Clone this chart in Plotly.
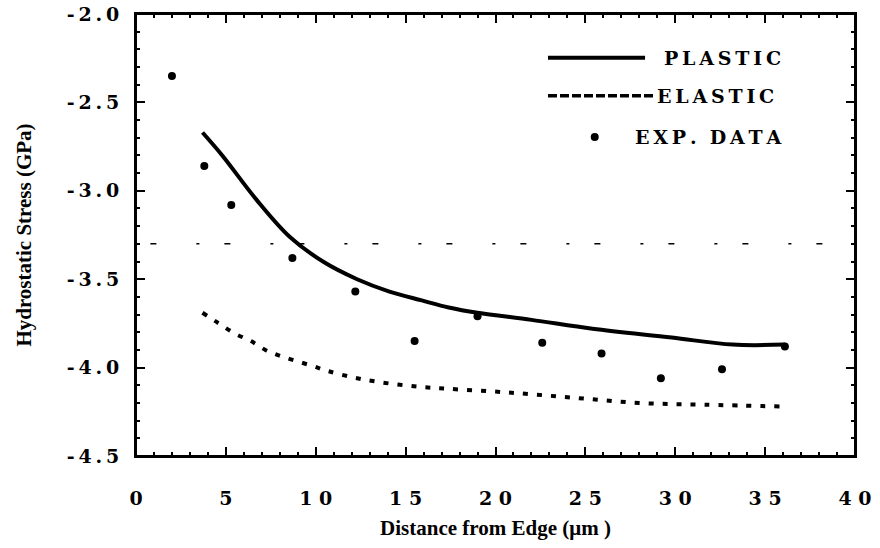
import plotly.graph_objects as go

# ---- data ----
exp_x = [2.0, 3.8, 5.3, 8.7, 12.2, 15.5, 19.0, 22.6, 25.9, 29.2, 32.6, 36.1]
exp_y = [-2.35, -2.86, -3.08, -3.38, -3.57, -3.85, -3.71, -3.86, -3.92, -4.06, -4.01, -3.88]

plastic_x = [3.7, 4.8, 6.7, 8.55, 10.4, 12.3, 14.1, 15.9, 17.4, 19.0, 22.0, 25.4, 29.8, 33.2, 36.1]
plastic_y = [-2.67, -2.80, -3.05, -3.26, -3.40, -3.50, -3.57, -3.62, -3.66, -3.69, -3.73, -3.78, -3.83, -3.87, -3.87]

elastic_x = [3.7, 4.6, 5.55, 6.4, 7.2, 8.2, 9.8, 10.7, 12.3, 14.1, 15.9, 17.4, 20.6, 24.3, 28.0, 31.7, 35.9]
elastic_y = [-3.69, -3.75, -3.81, -3.85, -3.90, -3.94, -3.99, -4.02, -4.06, -4.09, -4.11, -4.12, -4.14, -4.17, -4.20, -4.21, -4.22]

x_range = [0, 40]
y_range = [-4.5, -2.0]
x_tickvals = [0, 5, 10, 15, 20, 25, 30, 35, 40]
x_ticktext = ["0", "5", "1 0", "1 5", "2 0", "2 5", "3 0", "3 5", "4 0"]
y_tickvals = [-4.5, -4.0, -3.5, -3.0, -2.5, -2.0]
y_ticktext = ["-4.5", "-4.0", "-3.5", "-3.0", "-2.5", "-2.0"]

artifact_y = -3.3  # scan artifact line in the source image

legend_names = ["PLASTIC", "ELASTIC", "EXP. DATA"]

TICKFONT = dict(family="DejaVu Serif", size=19, color="black", weight=700)
TITLEFONT = dict(family="Liberation Serif", size=21, color="black", weight=700)
LEGFONT = dict(family="DejaVu Serif", size=19, color="black", weight=700)


def spaced(word):
    # widen lettering like the original typeface
    return "\u2002\u2009".join("\u2009".join(part) for part in word.split(" "))


fig = go.Figure()
fig.add_trace(go.Scatter(x=plastic_x, y=plastic_y, mode="lines",
                         line=dict(color="black", width=4, shape="spline", smoothing=1.0),
                         name=legend_names[0], showlegend=False))
fig.add_trace(go.Scatter(x=elastic_x, y=elastic_y, mode="lines",
                         line=dict(color="black", width=4, dash="5px,9px", shape="spline"),
                         name=legend_names[1], showlegend=False))
fig.add_trace(go.Scatter(x=exp_x, y=exp_y, mode="markers", marker=dict(color="black", size=8),
                         name=legend_names[2], showlegend=False))
# invisible trace to anchor the mirrored (top/right) tick axes
fig.add_trace(go.Scatter(x=x_range, y=y_range, xaxis="x2", yaxis="y2", mode="markers",
                         marker=dict(opacity=0), hoverinfo="skip", showlegend=False))

# plot frame
fig.add_shape(type="rect", xref="paper", yref="paper", x0=0, x1=1, y0=0, y1=1,
              line=dict(color="black", width=2), layer="above")

# scan artifact
fig.add_shape(type="line", xref="paper", yref="y", x0=0.02, x1=1.0, y0=artifact_y, y1=artifact_y,
              line=dict(color="black", width=1.5, dash="6px,40px,3px,25px"), layer="below")

# hand-made legend (as in the original figure)
fig.add_shape(type="line", xref="paper", yref="paper", x0=0.573, x1=0.708, y0=0.901, y1=0.901,
              line=dict(color="black", width=4))
fig.add_shape(type="line", xref="paper", yref="paper", x0=0.573, x1=0.722, y0=0.815, y1=0.815,
              line=dict(color="black", width=3.5, dash="9px,3px"))
fig.add_shape(type="circle", xref="paper", yref="paper", xsizemode="pixel", ysizemode="pixel",
              xanchor=0.638, yanchor=0.722, x0=-4, x1=4, y0=-4, y1=4,
              line=dict(color="black", width=0), fillcolor="black")
for name, xp, yp in zip(legend_names, [0.732, 0.722, 0.691], [0.901, 0.815, 0.722]):
    fig.add_annotation(text="<b>%s</b>" % spaced(name), xref="paper", yref="paper", x=xp, y=yp,
                       xanchor="left", yanchor="middle", showarrow=False, font=LEGFONT)

axis_common = dict(showgrid=False, zeroline=False, showline=True, linecolor="black", linewidth=2,
                   ticks="inside", ticklen=9, tickwidth=2, tickcolor="black",
                   tickfont=TICKFONT, automargin=False)
xminor = dict(ticks="inside", ticklen=4, tickwidth=1.5, dtick=1, tickcolor="black")
yminor = dict(ticks="inside", ticklen=4, tickwidth=1.5, dtick=0.1, tickcolor="black")

fig.update_layout(
    xaxis=dict(range=x_range, tickvals=x_tickvals, ticktext=["<b>%s</b>" % t for t in x_ticktext],
               minor=xminor, ticklabelstandoff=24,
               title=dict(text="<b>Distance from Edge (\u03bcm )</b>", font=TITLEFONT, standoff=13),
               **axis_common),
    yaxis=dict(range=y_range, tickvals=y_tickvals,
               ticktext=["<b>%s</b>" % "\u2009".join(t) for t in y_ticktext],
               minor=yminor, ticklabelstandoff=11,
               title=dict(text="<b>Hydrostatic Stress (GPa)</b>", font=TITLEFONT, standoff=30),
               **axis_common),
    xaxis2=dict(range=x_range, tickvals=x_tickvals, showticklabels=False, side="top",
                overlaying="x", anchor="y2", minor=xminor, **axis_common),
    yaxis2=dict(range=y_range, tickvals=y_tickvals, showticklabels=False, side="right",
                overlaying="y", anchor="x2", minor=yminor, **axis_common),
    width=880, height=548, margin=dict(l=136, r=25, t=14, b=92),
    plot_bgcolor="white", paper_bgcolor="white", showlegend=False,
)

fig.write_html("out.html", config={"displayModeBar": False},
               post_script="document.body.style.margin='0';")
